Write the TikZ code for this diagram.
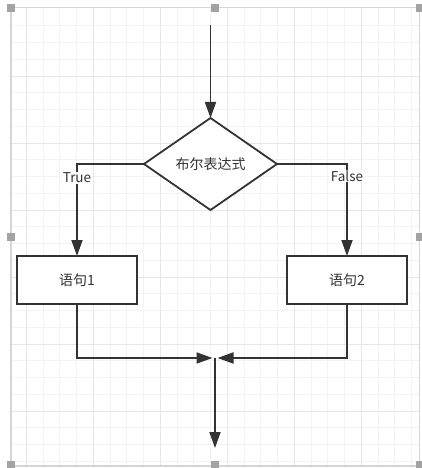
\documentclass[tikz,border=0pt]{standalone}
\usepackage{fontspec}
\setmainfont{Noto Sans CJK SC}
\usetikzlibrary{shapes.geometric,arrows.meta}

\definecolor{linea}{HTML}{333333}
\definecolor{rejmenor}{HTML}{F3F3F3}
\definecolor{rejmayor}{HTML}{E7E7E7}
\definecolor{marco}{HTML}{D6D6D6}
\definecolor{asa}{HTML}{A3A3A3}

\begin{document}
\begin{tikzpicture}[x=1pt,y=-1pt,
        flecha/.style={draw=linea, line width=1.8pt, -{Triangle[length=16pt,width=11pt]}},
        caja/.style={draw=linea, line width=1.8pt, fill=white, minimum width=120pt, minimum height=48pt,
            inner sep=0pt, outer sep=0pt, text=linea, font=\fontsize{14}{16}\selectfont},
        rombo/.style={diamond, aspect=1.45, draw=linea, line width=1.8pt, fill=white,
            minimum width=133pt, minimum height=92pt, inner sep=0pt, outer sep=0pt,
            text=linea, font=\fontsize{14}{16}\selectfont},
        etiqueta/.style={fill=white, inner sep=1pt, text=linea, font=\fontsize{13.5}{15}\selectfont},
        asita/.style={fill=asa, minimum size=8pt, inner sep=0pt}]
            % Fondo blanco
            \useasboundingbox[fill=white] (0,0) rectangle (422,468);

            % Rejilla (menor y mayor)
            \foreach \i in {1,...,24} \draw[rejmenor, line width=0.7pt] ({9.5+16.75*\i},8) -- (9.5+16.75*\i,466);
            \foreach \j in {1,...,27} \draw[rejmenor, line width=0.7pt] (11,{9+16.75*\j}) -- (419,9+16.75*\j);
            \foreach \i in {26.25,93.25,160.25,227.25,294.25,361.25} \draw[rejmayor, line width=0.8pt] (\i,8) -- (\i,466);
            \foreach \j in {76,143,210,277,344,411} \draw[rejmayor, line width=0.8pt] (11,\j) -- (419,\j);

            % Marco de seleccion con sus asas
            \draw[marco, line width=1.2pt] (11,7.5) rectangle (419.5,466);
            \foreach \p in {(10.5,8),(215,8),(419.5,8),(10.5,236.5),(419.5,236.5),(10.5,465),(215,465),(419.5,465)}
                \node[asita] at \p {};

            % Nodos del diagrama
            \coordinate (inicio) at (210.5,25);
            \node[rombo] (cond) at (210.5,164) {布尔表达式};
            \node[caja] (sent1) at (77,280) {语句1};
            \node[caja] (sent2) at (347,280) {语句2};
            \coordinate (union) at (215,358);
            \coordinate (fin) at (215,448);

            % Conectores
            \draw[flecha] (inicio) -- (cond.north);
            \draw[flecha] (cond.west) -| node[etiqueta, pos=0.575] {True} (sent1.north);
            \draw[flecha] (cond.east) -| node[etiqueta, pos=0.565] {False} (sent2.north);
            \draw[flecha, shorten >=2.5pt] (sent1.south) |- (union);
            \draw[flecha, shorten >=2.5pt] (sent2.south) |- (union);
            \draw[flecha] (union) -- (fin);
        \end{tikzpicture}
\end{document}
